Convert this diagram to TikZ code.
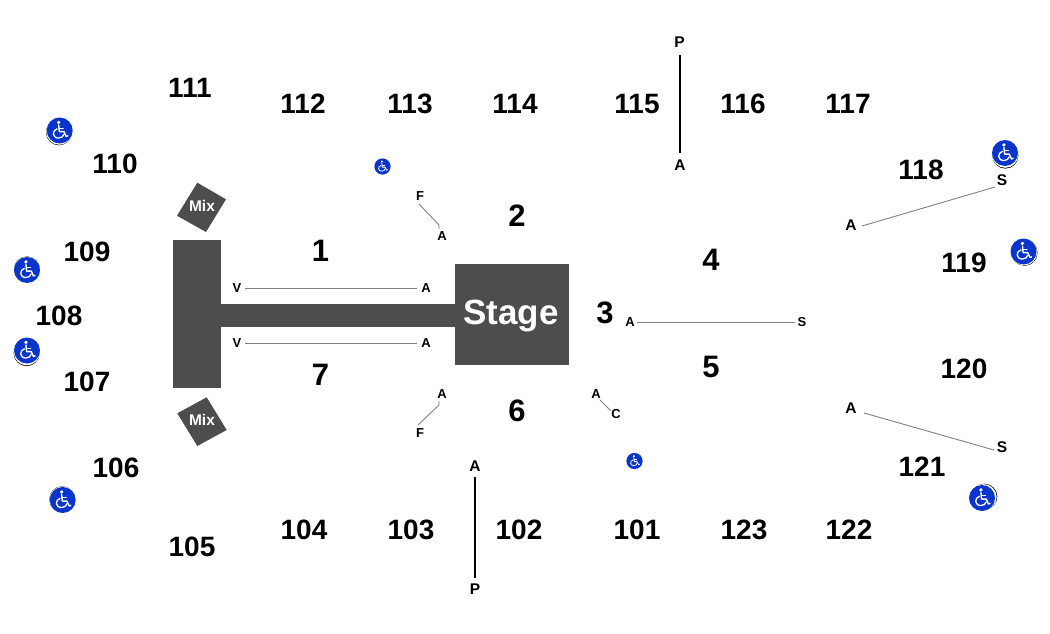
\documentclass[tikz,border=0pt]{standalone}
\usepackage{fontspec}
\usetikzlibrary{calc}
\setmainfont{Liberation Sans}
\definecolor{dk}{HTML}{4D4D4D}
\definecolor{wcblue}{HTML}{0A35CC}
\definecolor{thin}{HTML}{808080}
\tikzset{
  sec/.style={font=\fontsize{28}{28}\selectfont\bfseries,text=black,inner sep=0pt},
  secbig/.style={font=\fontsize{31}{31}\selectfont\bfseries,text=black,inner sep=0pt},
  lbl/.style={font=\fontsize{15.5}{15.5}\selectfont\bfseries,text=black,inner sep=1pt},
  lblsm/.style={font=\fontsize{13}{13}\selectfont\bfseries,text=black,inner sep=1pt},
  aisle/.style={draw=thin,line width=0.9pt},
  pline/.style={draw=black,line width=1.6pt},
  block/.style={fill=dk,draw=none},
  mixtext/.style={inner sep=0pt,text=white,font=\fontsize{15.5}{15.5}\selectfont\bfseries},
}
% \wc{x}{y}{radius}{shadow dx}{shadow dy}
\newcommand{\wc}[5]{%
  \begin{scope}[shift={(#1,#2)},x=#3pt,y=-#3pt]
    \fill[black] (#4,#5) circle[radius=1];
    \fill[white] (#4*0.7,#5*0.7) circle[radius=1];
    \fill[wcblue] (0,0) circle[radius=1];
    \fill[white] (-0.08,-0.62) circle[radius=0.14];
    \draw[white,line width=#3*0.11pt,line cap=round,line join=round] (-0.08,-0.42) -- (-0.03,0.08) -- (0.32,0.08) -- (0.5,0.46) -- (0.62,0.41);
    \draw[white,line width=#3*0.085pt,line cap=round] (-0.05,-0.18) -- (0.27,-0.18);
    \draw[white,line width=#3*0.1pt] (-0.18,-0.14) .. controls (-0.62,0) and (-0.58,0.58) .. (-0.08,0.58) .. controls (0.14,0.58) and (0.27,0.46) .. (0.33,0.28);
  \end{scope}}
\begin{document}
\begin{tikzpicture}[x=1pt,y=-1pt]
\useasboundingbox (0,0) rectangle (1050,634);
\fill[block] (173,240) rectangle (221,388);
\fill[block] (221,304) rectangle (455,327);
\node[block,minimum width=114pt,minimum height=101pt,inner sep=0pt] (stagebox) at (512,314.5) {};
\node[inner sep=0pt,text=white,font=\fontsize{35}{35}\selectfont\bfseries] (stage) at (511,315.5) {Stage};
\fill[block] (197.3,182.7) -- (226,199.3) -- (206,232) -- (177,215.7) -- cycle;
\fill[block] (206.7,397.3) -- (226.7,430) -- (197.3,446) -- (177.3,413.3) -- cycle;
\node[mixtext] (mixa) at (202,206) {Mix};
\node[mixtext] (mixb) at (202,419.5) {Mix};
\foreach \n/\t/\x/\y in {s1/111/190/88,s2/112/303/104,s3/113/410/104,s4/114/515/104,s5/115/637/104,s6/116/743/104,s7/117/848/104,
  s8/110/115/164,s9/109/87/252,s10/108/59/316,s11/107/87/382,s12/106/116/468,s13/105/192/547,s14/104/304/530,s15/103/411/530,s16/102/519/530,s17/101/637/530,s18/123/744/530,s19/122/849/530,
  s20/118/921/170,s21/119/964/263,s22/120/964/369,s23/121/922/467}
  \node[sec] (\n) at (\x,\y) {\t};
\foreach \n/\t/\x/\y in {s24/1/320.5/251,s25/7/320.5/375,s26/2/517/216,s27/6/517/411,s28/3/605/313,s29/4/711/260,s30/5/711/367}
  \node[secbig] (\n) at (\x,\y) {\t};
% vertical P-A
\node[lbl] (pa) at (679.5,42) {P};
\node[lbl] (pb) at (680,165) {A};
\draw[pline] ($(pa)+(0.5,13)$) -- ($(pb)+(0,-12)$);
\node[lbl] (qa) at (475,466) {A};
\node[lbl] (qb) at (475,589) {P};
\draw[pline] ($(qa)+(0,11)$) -- ($(qb)+(0,-11)$);
% diagonals
\node[lbl] (ra) at (851,225) {A};
\node[lbl] (rb) at (1002,180) {S};
\draw[aisle] ($(ra)+(11,1)$) -- ($(rb)+(-7,7)$);
\node[lbl] (sa) at (851,408) {A};
\node[lbl] (sb) at (1002,447) {S};
\draw[aisle] ($(sa)+(13,5)$) -- ($(sb)+(-8,3)$);
% horizontal
\node[lblsm] (ta) at (630,322) {A};
\node[lblsm] (tb) at (802,322) {S};
\draw[aisle] ($(ta)+(7,0)$) -- ($(tb)+(-7,0)$);
\node[lblsm] (va) at (237,288) {V};
\node[lblsm] (vb) at (426,288) {A};
\draw[aisle] ($(va)+(8,0)$) -- ($(vb)+(-9,0)$);
\node[lblsm] (wa) at (237,343) {V};
\node[lblsm] (wb) at (426,343) {A};
\draw[aisle] ($(wa)+(8,0)$) -- ($(wb)+(-9,0)$);
% short bent
\node[lblsm] (fa) at (420,196) {F};
\node[lblsm] (fb) at (442,236) {A};
\draw[aisle] ($(fa)+(-1,8)$) -- ($(fb)+(-3,-11)$) -- ($(fb)+(-3,-7)$);
\node[lblsm] (ga) at (442,394) {A};
\node[lblsm] (gb) at (420,433) {F};
\draw[aisle] ($(ga)+(-3,7)$) -- ($(ga)+(-3,11)$) -- ($(gb)+(-2,-8)$);
\node[lblsm] (ha) at (596,394) {A};
\node[lblsm] (hb) at (616,414) {C};
\draw[aisle] ($(ha)+(4,6)$) -- ($(hb)+(-5,-3)$);
% wheelchair icons
\wc{59.7}{130.5}{13}{-0.06}{0.14}
\wc{27}{270}{13}{0}{-0.05}
\wc{27}{350.5}{13}{-0.03}{0.2}
\wc{62.7}{500}{13}{-0.04}{-0.06}
\wc{1005}{153}{13}{0.03}{0.2}
\wc{1023.5}{251.5}{13}{0.08}{0.1}
\wc{982}{498}{13}{0.18}{-0.1}
\wc{382.5}{166.5}{8}{0}{0}
\wc{634.5}{461}{8}{0}{0}
\end{tikzpicture}
\end{document}
